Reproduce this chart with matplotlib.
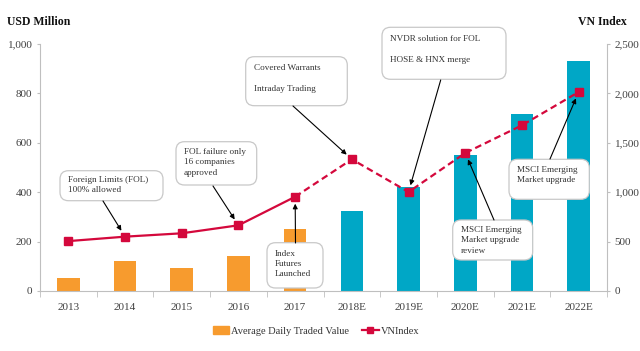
import matplotlib
matplotlib.use("Agg")
import matplotlib.pyplot as plt
from matplotlib.patches import FancyBboxPatch, Patch
from matplotlib.lines import Line2D
from matplotlib.ticker import FuncFormatter, FixedLocator

plt.rcParams['font.family'] = ['Liberation Serif', 'DejaVu Serif']

years = ['2013', '2014', '2015', '2016', '2017', '2018E', '2019E', '2020E', '2021E', '2022E']
adtv = [53, 121, 94, 140, 251, 325, 423, 551, 715, 932]
vnindex = [505, 550, 584, 665, 954, 1333, 1002, 1397, 1677, 2014]
n_actual = 5  # 2013-2017 actual, rest estimates

orange = '#F79B2E'
teal = '#00A7C6'
red = '#D4083C'
grid_gray = '#BFBFBF'
text_gray = '#404040'

fig = plt.figure(figsize=(6.4, 3.51), dpi=100)
ax = fig.add_axes([40/640, 1-291/351, 567/640, 247/351])
ax2 = ax.twinx()

x = list(range(len(years)))
colors = [orange if i < n_actual else teal for i in x]
ax.bar(x, adtv, width=0.4, color=colors, zorder=2)
ax.set_xlim(-0.5, len(years)-0.5)
ax.set_ylim(0, 1000)
ax2.set_ylim(0, 2500)

# VNIndex line: solid for actual, dashed for estimates
ax2.plot(x[:n_actual], vnindex[:n_actual], color=red, lw=1.6, zorder=3)
ax2.plot(x[n_actual-1:], vnindex[n_actual-1:], color=red, lw=1.6, ls=(0, (3, 1.8)), zorder=3)
ax2.plot(x, vnindex, ls='none', marker='s', ms=6, color=red, zorder=4)

fmt = FuncFormatter(lambda v, p: f'{int(v):,}')
ax.set_yticks(range(0, 1001, 200))
ax.yaxis.set_major_formatter(fmt)
ax2.set_yticks(range(0, 2501, 500))
ax2.yaxis.set_major_formatter(fmt)
ax.set_xticks(x)
ax.set_xticklabels(years)
ax.xaxis.set_minor_locator(FixedLocator([i + 0.5 for i in range(-1, len(years))]))
ax.tick_params(axis='x', which='major', length=0, labelsize=8, colors=text_gray, pad=9)
ax.tick_params(axis='x', which='minor', length=4, color=grid_gray)
ax.tick_params(axis='y', length=2.5, color=grid_gray, labelsize=8, labelcolor=text_gray, pad=3)
ax2.tick_params(axis='y', length=2.5, color=grid_gray, labelsize=8, labelcolor=text_gray, pad=3)

for a in (ax, ax2):
    a.spines['top'].set_visible(False)
    for s in ('left', 'right', 'bottom'):
        a.spines[s].set_color(grid_gray)
ax.spines['right'].set_visible(False)
ax2.spines['left'].set_visible(False)
ax2.spines['bottom'].set_visible(False)

fig.text(7/640, 1-22/351, 'USD Million', fontsize=8.5, fontweight='bold', ha='left', va='center', color='#111111')
fig.text(627/640, 1-22/351, 'VN Index', fontsize=8.5, fontweight='bold', ha='right', va='center', color='#111111')

def px2ax(px, py):
    return ((px - 40) / 567, (291 - py) / 247)

# annotation boxes: pixel box, text, text anchor, arrow start, target index
notes = [
    ((60, 170.7, 163, 200.7), 'Foreign Limits (FOL)\n100% allowed', (68, 176), (103, 201), 1),
    ((176, 141.7, 256.7, 185), 'FOL failure only\n16 companies\napproved', (184, 148), (213, 186), 3),
    ((245.7, 56.7, 347.3, 105.7), 'Covered Warrants\n\nIntraday Trading', (253.7, 64), (293, 106), 5),
    ((382, 27.3, 506, 79.3), 'NVDR solution for FOL\n\nHOSE & HNX merge', (390.3, 35), (440.7, 80), 6),
    ((267, 242.7, 323, 288), 'Index\nFutures\nLaunched', (274.7, 249.5), (295.5, 243), 4),
    ((452.7, 220, 532.7, 260), 'MSCI Emerging\nMarket upgrade\nreview', (460.7, 226), (494, 220), 7),
    ((509, 159.3, 589.3, 199.3), 'MSCI Emerging\nMarket upgrade', (516.7, 166), (550, 159), 9),
]

for (bx0, by0, bx1, by1), txt, (tx, ty), (sx, sy), idx in notes:
    ax0, ay1 = px2ax(bx0, by0)
    ax1_, ay0 = px2ax(bx1, by1)
    box = FancyBboxPatch((ax0, ay0), ax1_-ax0, ay1-ay0,
                         boxstyle='round,pad=0,rounding_size=0.015',
                         transform=ax2.transAxes, facecolor='white',
                         edgecolor='#C8C8C8', lw=0.9, zorder=10, clip_on=False,
                         mutation_aspect=2.3)
    ax2.add_patch(box)
    tax, tay = px2ax(tx, ty)
    ax2.text(tax, tay, txt, transform=ax2.transAxes, ha='left', va='top',
             fontsize=6.6, color='#333333', zorder=11, linespacing=1.4, clip_on=False)
    sax, say = px2ax(sx, sy)
    ax2.annotate('', xy=(idx, vnindex[idx]), xycoords='data',
                 xytext=(sax, say), textcoords='axes fraction',
                 arrowprops=dict(arrowstyle='-|>', color='black', lw=0.8,
                                 shrinkA=0, shrinkB=5, mutation_scale=7),
                 zorder=12, annotation_clip=False)

handles = [Patch(color=orange), Line2D([0], [0], color=red, lw=1.6, marker='s', ms=5)]
labels = ['Average Daily Traded Value', 'VNIndex']
fig.legend(handles, labels, loc='center', bbox_to_anchor=(316/640, 1-331/351), ncol=2,
           frameon=False, fontsize=7.5, handlelength=1.6, handletextpad=0.2,
           columnspacing=1.2, labelcolor='#333333')

fig.savefig('out.png', dpi=100)
